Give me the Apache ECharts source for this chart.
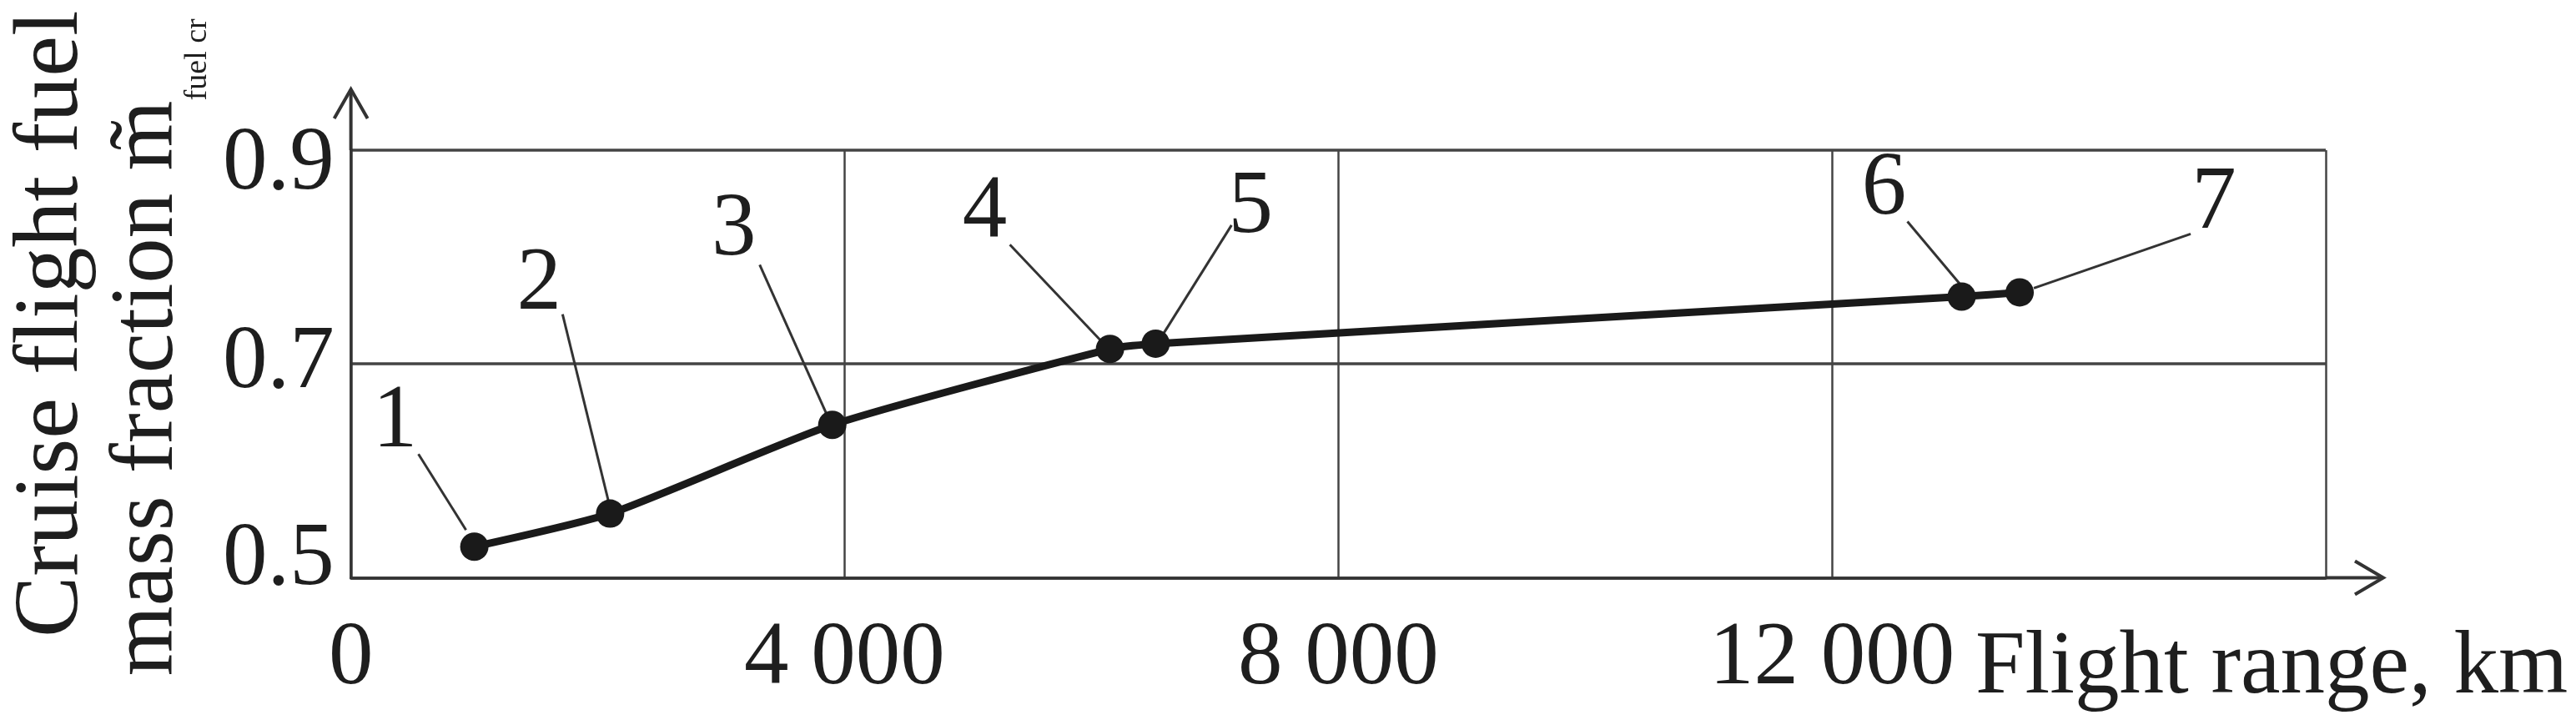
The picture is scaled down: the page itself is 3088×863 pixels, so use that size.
<!DOCTYPE html>
<html>
<head>
<meta charset="utf-8">
<script src="https://cdn.jsdelivr.net/npm/echarts@6/dist/echarts.min.js"></script>
<style>
html, body { margin: 0; padding: 0; background: #fff; }
#chart { width: 3088px; height: 863px; }
</style>
</head>
<body>
<div id="chart"></div>
<script>
// data
const rangeKm = [1000, 2100, 3900, 6150, 6520, 13050, 13520]
const fuelFrac = [0.529, 0.560, 0.643, 0.714, 0.719, 0.763, 0.767]
const pointLabels = ['1', '2', '3', '4', '5', '6', '7']
const xTickLabels = ['0', '4 000', '8 000', '12 000', '']
const yTickLabels = ['0.5', '0.7', '0.9']

// where the numbers sit relative to their dot (px)
const labelShift = [[-95, -148], [-85, -274], [-118, -232], [-150, -162], [114, -162], [-93, -128], [233, -105]]
const leaderFrom = [[-67, -111], [-57, -239], [-87, -192], [-120, -125], [91, -142], [-65, -90], [205, -70]]
const leaderTo = [[-10, -20], [-2, -15], [-5, -9], [-12, -11], [10, -13], [-2, -15], [17, -5]]

const FONT = 'Liberation Serif'
const INK = '#1e1e1e'
const GRID = '#444'

let myChart = echarts.init(document.getElementById('chart'))

let option = {
    animation: false,
    backgroundColor: '#fff',
    grid: { left: 412, right: 300, top: 180, bottom: 151 },
    xAxis: {
        type: 'value', min: 0, max: 16000, interval: 4000,
        name: '{n|Flight range, km}', nameLocation: 'end', nameGap: -420,
        nameTextStyle: {
            fontFamily: FONT, fontSize: 107, color: INK, align: 'left',
            rich: { n: { fontFamily: FONT, fontSize: 107, color: INK, padding: [218, 0, 0, 0] } }
        },
        axisLine: { show: true, lineStyle: { color: '#333', width: 3.5 } },
        axisTick: { show: false },
        splitLine: { show: true, lineStyle: { color: GRID, width: 2.5 } },
        axisLabel: {
            margin: 45, fontFamily: FONT, fontSize: 107, color: INK,
            formatter: v => xTickLabels[Math.round(v / 4000)]
        }
    },
    yAxis: {
        type: 'value', min: 0.5, max: 0.9, interval: 0.2,
        name: '{a|Cruise flight fuel}\n{b|mass fraction m\u0303}{s|fuel cr}',
        nameLocation: 'middle', nameRotate: 90, nameGap: 161,
        nameTextStyle: {
            fontFamily: FONT, color: INK,
            rich: {
                a: { fontFamily: FONT, fontSize: 110, lineHeight: 118, color: INK, padding: [0, 0, 0, 96] },
                b: { fontFamily: FONT, fontSize: 108, lineHeight: 112, color: INK, padding: [0, 0, 0, 40] },
                s: { fontFamily: FONT, fontSize: 38, lineHeight: 36, color: INK, verticalAlign: 'top', padding: [96, 0, 0, 0] }
            }
        },
        axisLine: { show: true, lineStyle: { color: '#333', width: 3.5 } },
        axisTick: { show: false },
        splitLine: { show: true, lineStyle: { color: GRID, width: 3.5 } },
        axisLabel: {
            margin: 20, fontFamily: FONT, fontSize: 107, color: INK,
            formatter: v => {
                let i = Math.round((v - 0.5) / 0.2)
                return '{t' + i + '|' + yTickLabels[i] + '}'
            },
            rich: {
                t0: { fontFamily: FONT, fontSize: 107, color: INK, padding: [0, 0, 42, 0] },
                t1: { fontFamily: FONT, fontSize: 107, color: INK },
                t2: { fontFamily: FONT, fontSize: 107, color: INK, padding: [36, 0, 0, 0] }
            }
        }
    },
    series: [
        {
            type: 'custom',
            z: 1,
            data: rangeKm.map((x, i) => [x, fuelFrac[i], i]),
            renderItem: function (params, api) {
                let i = api.value(2)
                let p = api.coord([api.value(0), api.value(1)])
                return {
                    type: 'group',
                    children: [
                        {
                            type: 'line',
                            shape: {
                                x1: p[0] + leaderFrom[i][0], y1: p[1] + leaderFrom[i][1],
                                x2: p[0] + leaderTo[i][0], y2: p[1] + leaderTo[i][1]
                            },
                            style: { stroke: '#333', lineWidth: 3 }
                        },
                        {
                            type: 'text',
                            x: p[0] + labelShift[i][0], y: p[1] + labelShift[i][1],
                            style: {
                                text: pointLabels[i], fontFamily: FONT, fontSize: 107, fill: INK,
                                align: 'center', verticalAlign: 'middle'
                            }
                        }
                    ]
                }
            }
        },
        {
            type: 'line',
            z: 3,
            data: rangeKm.map((x, i) => [x, fuelFrac[i]]),
            smooth: 0.2,
            symbol: 'circle', symbolSize: 34,
            lineStyle: { color: '#1a1a1a', width: 9 },
            itemStyle: { color: '#1a1a1a' }
        }
    ]
}
myChart.setOption(option)

// axis arrows past the plot box
let o = myChart.convertToPixel({ gridIndex: 0 }, [0, 0.5])
let t = myChart.convertToPixel({ gridIndex: 0 }, [0, 0.9])
let r = myChart.convertToPixel({ gridIndex: 0 }, [16000, 0.5])
let ay = t[1] - 73, ax = r[0] + 69
let arrowStyle = { stroke: '#333', lineWidth: 4, fill: null }
myChart.setOption({
    graphic: [
        { type: 'line', shape: { x1: o[0], y1: t[1], x2: o[0], y2: ay }, style: arrowStyle },
        { type: 'polyline', shape: { points: [[o[0] - 20, ay + 35], [o[0], ay], [o[0] + 20, ay + 35]] }, style: arrowStyle },
        { type: 'line', shape: { x1: r[0], y1: o[1], x2: ax, y2: o[1] }, style: arrowStyle },
        { type: 'polyline', shape: { points: [[ax - 34, o[1] - 20], [ax, o[1]], [ax - 34, o[1] + 20]] }, style: arrowStyle }
    ]
})
</script>
</body>
</html>
